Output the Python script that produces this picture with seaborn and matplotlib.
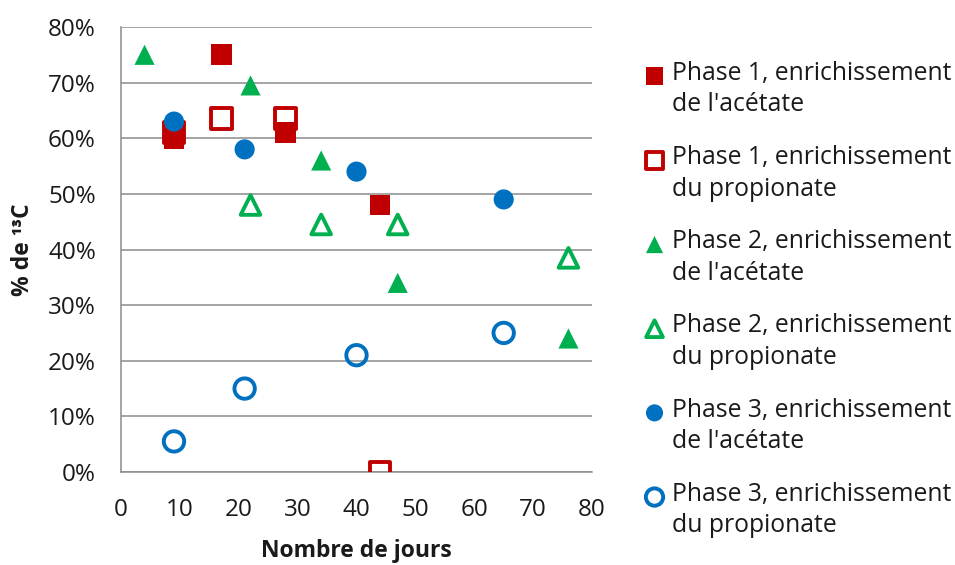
"""
Enrichissement en 13C de l'acétate et du propionate selon la phase.
"""

import matplotlib.pyplot as plt
import numpy as np
import seaborn as sns
from matplotlib.ticker import PercentFormatter, MultipleLocator

# values (day, fraction of 13C)
p1_acet_days = [9, 17, 28, 44]
p1_acet_vals = [0.60, 0.75, 0.61, 0.48]
p1_prop_days = [9, 17, 28, 44]
p1_prop_vals = [0.61, 0.635, 0.635, 0.0]
p2_acet_days = [4, 22, 34, 47, 76]
p2_acet_vals = [0.75, 0.695, 0.56, 0.34, 0.24]
p2_prop_days = [22, 34, 47, 76]
p2_prop_vals = [0.48, 0.445, 0.445, 0.385]
p3_acet_days = [9, 21, 40, 65]
p3_acet_vals = [0.63, 0.58, 0.54, 0.49]
p3_prop_days = [9, 21, 40, 65]
p3_prop_vals = [0.055, 0.15, 0.21, 0.25]

labels = [
    "Phase 1, enrichissement\nde l'acétate",
    "Phase 1, enrichissement\ndu propionate",
    "Phase 2, enrichissement\nde l'acétate",
    "Phase 2, enrichissement\ndu propionate",
    "Phase 3, enrichissement\nde l'acétate",
    "Phase 3, enrichissement\ndu propionate",
]

RED, GREEN, BLUE = "#C00000", "#00B050", "#0070C0"
GRID = "#8C8C8C"
TEXT = "#1a1a1a"

sns.set_style("white")
plt.rcParams["font.family"] = ["Open Sans", "DejaVu Sans"]

series = [
    (p1_acet_days, p1_acet_vals, "s", RED, True, 225),
    (p1_prop_days, p1_prop_vals, "s", RED, False, 225),
    (p2_acet_days, p2_acet_vals, "^", GREEN, True, 210),
    (p2_prop_days, p2_prop_vals, "^", GREEN, False, 200),
    (p3_acet_days, p3_acet_vals, "o", BLUE, True, 210),
    (p3_prop_days, p3_prop_vals, "o", BLUE, False, 215),
]

fig = plt.figure(figsize=(9.55, 5.65), dpi=100)
ax = fig.add_axes([0.1267, 0.1646, 0.4932, 0.7876])

for (xs, ys, marker, color, filled, size), label in zip(series, labels):
    if filled:
        sns.scatterplot(x=xs, y=ys, ax=ax, marker=marker, s=size, color=color,
                        edgecolor="none", linewidth=0, label=label, zorder=3)
    else:
        sns.scatterplot(x=xs, y=ys, ax=ax, marker=marker, s=size, color=color,
                        facecolor="none", edgecolor=color, linewidth=2.8,
                        label=label, zorder=3)

ax.set_xlim(0, 80)
ax.set_ylim(0, 0.8)
ax.xaxis.set_major_locator(MultipleLocator(10))
ax.yaxis.set_major_locator(MultipleLocator(0.1))
ax.yaxis.set_major_formatter(PercentFormatter(1.0, decimals=0))

ax.grid(axis="y", color=GRID, linewidth=1.1)
ax.grid(axis="x", visible=False)
for side in ["top", "right"]:
    ax.spines[side].set_visible(False)
for side in ["left", "bottom"]:
    ax.spines[side].set_color(GRID)
    ax.spines[side].set_linewidth(1.1)
ax.tick_params(axis="both", direction="out", length=6, width=1.1, color=GRID,
               labelsize=17.5, labelcolor=TEXT)
ax.tick_params(axis="x", pad=13)
ax.tick_params(axis="y", pad=12)

ax.set_xlabel("Nombre de jours", fontsize=16.5, fontweight="bold", labelpad=12,
              color=TEXT)
ax.set_ylabel("% de ¹³C", fontsize=16.5, fontweight="bold", labelpad=9,
              color=TEXT)

leg = ax.legend(loc="upper left", bbox_to_anchor=(0.675, 0.892),
                bbox_transform=fig.transFigure, frameon=False,
                fontsize=17.8, handlelength=0.8, handletextpad=0.3,
                labelspacing=1.12, borderpad=0, borderaxespad=0,
                markerscale=0.85)
for t in leg.get_texts():
    t.set_linespacing(1.34)
    t.set_color(TEXT)
# put the marker level with the first line of each label
for h in leg.legend_handles:
    offs = np.asarray(h.get_offsets(), dtype=float)
    offs[:, 1] += 11.5
    h.set_offsets(offs)

fig.savefig("out.png", dpi=100)
